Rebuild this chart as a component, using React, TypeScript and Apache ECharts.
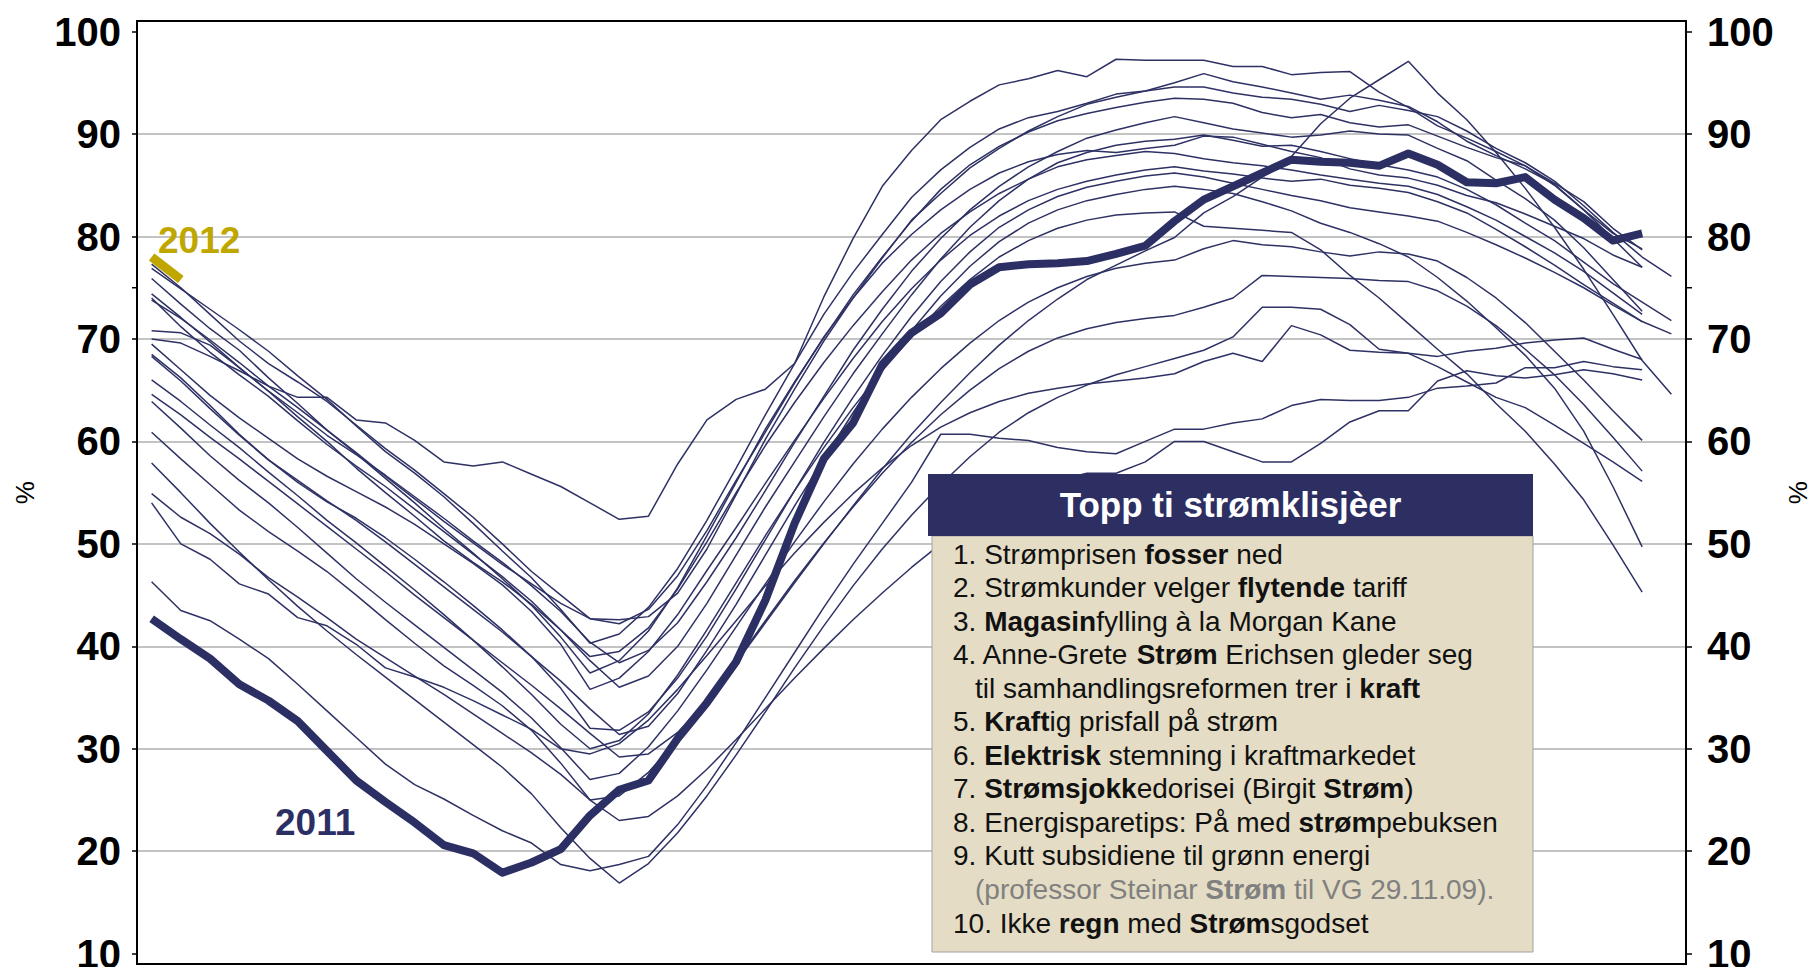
import React, { useEffect, useRef } from 'react';
import * as echarts from 'echarts';

const weeks = ['1','2','3','4','5','6','7','8','9','10','11','12','13','14','15','16','17','18','19','20','21','22','23','24','25','26','27','28','29','30','31','32','33','34','35','36','37','38','39','40','41','42','43','44','45','46','47','48','49','50','51','52','53'];
const yTicks = [10, 20, 30, 40, 50, 60, 70, 80, 90, 100];
const extraTick = 75;

const y2012 = [78.0, 75.8];
const y2011 = [42.7, 40.7, 38.8, 36.3, 34.7, 32.7, 29.8, 26.9, 24.8, 22.8, 20.6, 19.8, 17.9, 18.9, 20.2, 23.5, 26.0, 26.9, 31.0, 34.5, 38.5, 44.5, 52.0, 58.3, 61.8, 67.5, 70.6, 72.5, 75.3, 77.0, 77.3, 77.4, 77.6, 78.3, 79.1, 81.5, 83.6, 84.9, 86.2, 87.5, 87.3, 87.2, 86.9, 88.1, 87.0, 85.3, 85.2, 85.8, 83.6, 81.8, 79.6, 80.3];

const h01 = [70.0, 69.6, 68.3, 66.9, 65.4, 64.3, 64.3, 62.1, 61.8, 60.1, 58.0, 57.6, 58.0, 56.8, 55.6, 54.0, 52.4, 52.7, 57.8, 62.1, 64.1, 65.1, 67.6, 74.1, 79.8, 84.9, 88.4, 91.4, 93.2, 94.8, 95.4, 96.2, 95.6, 97.3, 97.2, 97.2, 97.2, 96.6, 96.6, 95.8, 96.0, 96.1, 94.1, 92.6, 90.8, 89.6, 88.3, 86.9, 85.0, 82.6, 80.3, 78.8];
const h02 = [77.3, 75.0, 72.4, 69.8, 67.6, 65.8, 63.9, 61.6, 59.3, 57.2, 54.9, 52.6, 50.0, 47.3, 45.0, 42.7, 42.6, 42.9, 45.2, 49.5, 54.8, 60.2, 65.1, 69.8, 74.0, 77.9, 81.6, 84.2, 86.7, 88.6, 90.3, 91.7, 92.9, 93.6, 94.2, 95.0, 95.9, 95.1, 94.6, 94.0, 93.4, 93.8, 93.3, 92.7, 91.2, 89.3, 87.9, 86.6, 85.1, 82.6, 79.8, 77.0];
const h03 = [76.9, 74.9, 72.9, 70.9, 68.8, 66.4, 64.1, 61.5, 59.0, 56.9, 54.6, 52.0, 49.3, 46.7, 43.6, 40.3, 41.2, 43.8, 47.6, 52.3, 57.4, 62.6, 67.6, 72.4, 76.5, 80.2, 83.8, 86.5, 88.7, 90.5, 91.6, 92.2, 93.0, 93.9, 94.2, 94.6, 94.6, 94.0, 93.6, 93.4, 92.9, 92.2, 92.8, 92.3, 91.7, 90.3, 88.6, 87.2, 85.4, 83.0, 80.4, 78.0, 76.1];
const h04 = [75.9, 73.4, 71.0, 68.9, 66.2, 63.7, 61.1, 58.8, 56.4, 54.0, 51.5, 49.1, 46.6, 44.0, 40.9, 37.4, 38.6, 41.5, 45.7, 50.8, 56.0, 61.2, 65.8, 70.1, 74.3, 78.0, 81.5, 84.6, 87.0, 88.8, 90.2, 91.3, 92.0, 92.6, 93.1, 93.5, 93.4, 93.0, 92.1, 91.6, 91.9, 91.1, 90.7, 90.9, 89.8, 88.7, 87.7, 86.9, 85.2, 83.4, 80.8, 78.7];
const h05 = [74.4, 72.1, 69.7, 67.2, 64.9, 62.8, 60.6, 58.7, 56.7, 54.6, 52.5, 50.3, 48.2, 45.9, 43.4, 40.4, 38.4, 39.6, 42.3, 46.3, 50.6, 55.2, 59.9, 64.4, 68.9, 72.9, 76.6, 79.8, 82.6, 84.9, 86.8, 88.3, 89.6, 90.4, 91.1, 91.7, 91.1, 90.5, 90.1, 89.7, 89.9, 90.3, 90.0, 89.9, 88.6, 87.4, 85.5, 83.7, 81.6, 78.9, 75.8, 72.7];
const h06 = [74.0, 71.2, 68.7, 66.5, 64.4, 62.0, 59.7, 57.6, 55.6, 53.4, 51.2, 49.0, 46.8, 44.4, 41.6, 38.6, 36.0, 37.1, 40.0, 44.2, 48.9, 53.6, 58.0, 62.4, 66.6, 70.5, 74.3, 77.8, 80.9, 83.5, 85.6, 87.2, 88.2, 88.9, 89.3, 89.5, 89.9, 89.4, 88.8, 88.9, 88.3, 87.6, 87.0, 86.5, 85.8, 84.6, 83.1, 81.3, 79.6, 77.5, 75.4, 73.6, 71.8];
const h07 = [73.8, 72.0, 69.9, 67.7, 65.4, 63.3, 61.1, 58.9, 56.6, 54.4, 52.2, 50.1, 48.0, 46.1, 44.2, 42.7, 42.2, 43.6, 46.9, 51.3, 56.2, 60.9, 65.7, 70.2, 74.0, 77.4, 80.2, 82.6, 84.6, 86.2, 87.3, 88.0, 88.4, 88.2, 88.6, 88.9, 89.8, 89.7, 89.0, 88.3, 87.7, 86.6, 86.0, 85.7, 85.0, 84.0, 83.3, 82.2, 81.0, 79.8, 78.2, 77.0];
const h08 = [70.8, 70.6, 69.4, 67.2, 64.9, 62.4, 60.0, 57.4, 55.0, 52.7, 50.3, 48.2, 46.3, 44.1, 41.6, 39.0, 39.5, 41.8, 45.6, 50.2, 55.0, 59.6, 63.8, 67.7, 71.3, 74.6, 77.7, 80.3, 82.4, 84.2, 85.6, 86.8, 87.5, 87.9, 88.3, 88.1, 87.6, 87.2, 86.9, 86.5, 86.0, 85.6, 85.2, 84.9, 84.1, 82.9, 81.6, 80.0, 78.4, 76.6, 74.5, 72.4];
const h09 = [69.5, 67.0, 64.5, 62.3, 60.3, 58.3, 56.6, 55.1, 53.6, 51.9, 50.0, 48.1, 46.0, 43.4, 40.2, 35.8, 36.9, 39.5, 43.1, 47.4, 51.6, 55.9, 60.1, 64.2, 68.1, 71.7, 74.9, 77.7, 80.1, 82.0, 83.5, 84.6, 85.4, 86.0, 86.5, 86.8, 86.4, 86.1, 85.7, 85.4, 85.6, 85.0, 84.7, 84.3, 83.4, 82.3, 80.7, 79.0, 77.2, 75.3, 73.5, 71.7, 70.5];
const h10 = [68.5, 66.2, 63.5, 60.7, 58.2, 56.0, 54.1, 52.5, 50.6, 48.5, 46.3, 44.0, 41.6, 39.0, 35.9, 32.0, 31.8, 33.6, 36.9, 41.0, 45.6, 50.4, 55.2, 59.9, 64.3, 68.4, 72.2, 75.6, 78.5, 80.9, 82.6, 83.9, 84.8, 85.4, 85.9, 86.2, 85.8, 85.2, 84.6, 84.0, 83.5, 82.8, 82.4, 82.0, 81.5, 80.4, 79.2, 77.9, 76.5, 75.0, 73.3, 71.7];
const h11 = [68.3, 65.9, 63.2, 60.6, 58.2, 56.2, 54.2, 52.3, 50.2, 48.0, 45.8, 43.6, 41.4, 39.0, 36.6, 33.9, 31.4, 32.2, 35.4, 39.6, 44.1, 48.9, 53.7, 58.3, 62.8, 67.0, 70.8, 74.2, 77.1, 79.5, 81.3, 82.6, 83.5, 84.1, 84.6, 84.9, 84.6, 84.2, 83.4, 82.5, 81.3, 80.4, 79.3, 78.0, 76.0, 73.7, 71.1, 68.4, 65.2, 61.0, 55.6, 49.7];
const h12 = [66.0, 63.9, 61.6, 59.4, 57.0, 54.7, 52.3, 50.1, 47.8, 45.5, 43.1, 40.6, 38.0, 35.3, 32.4, 30.0, 30.8, 33.4, 37.2, 41.6, 46.2, 50.8, 55.2, 59.4, 63.3, 66.9, 70.2, 73.2, 75.8, 78.0, 79.6, 80.8, 81.6, 82.1, 82.3, 82.4, 81.0, 80.8, 80.6, 80.4, 78.7, 76.2, 74.0, 71.5, 69.0, 66.6, 63.7, 61.0, 57.8, 54.3, 49.9, 45.3];
const h13 = [64.6, 62.6, 60.4, 58.3, 56.1, 53.9, 51.7, 49.5, 47.3, 45.0, 42.8, 40.6, 38.4, 36.2, 33.9, 31.5, 29.2, 29.5, 31.6, 34.7, 38.4, 42.3, 46.2, 50.0, 53.7, 57.3, 60.7, 63.8, 66.7, 69.4, 71.8, 73.9, 75.8, 77.2, 78.6, 79.9, 82.3, 83.9, 85.8, 87.8, 91.0, 93.5, 95.3, 97.1, 94.0, 91.4, 88.2, 84.7, 80.9, 76.8, 72.4, 67.9, 64.6];
const h14 = [63.9, 61.3, 58.6, 56.2, 54.0, 51.6, 49.1, 46.6, 44.3, 42.1, 39.9, 37.7, 35.5, 33.0, 30.1, 27.0, 27.6, 30.2, 33.7, 37.7, 41.9, 46.1, 50.2, 54.1, 57.8, 61.2, 64.3, 67.1, 69.6, 71.8, 73.6, 75.0, 76.1, 76.9, 77.4, 77.7, 78.8, 79.6, 79.2, 79.0, 78.5, 78.1, 78.5, 78.3, 77.6, 76.0, 74.0, 71.6, 68.8, 66.0, 63.0, 60.1];
const h15 = [60.9, 58.3, 55.8, 53.3, 51.2, 49.3, 47.3, 45.0, 42.6, 40.3, 38.1, 36.2, 34.2, 31.8, 28.6, 25.0, 25.4, 27.7, 30.9, 34.6, 38.5, 42.5, 46.4, 50.1, 53.6, 56.9, 59.9, 62.6, 65.0, 67.1, 68.8, 70.1, 71.0, 71.6, 72.0, 72.3, 73.1, 74.0, 76.2, 76.1, 76.0, 75.9, 75.7, 75.6, 74.7, 73.2, 71.3, 69.0, 66.5, 63.6, 60.4, 57.1];
const h16 = [57.9, 55.0, 52.0, 49.2, 46.5, 43.9, 41.5, 39.2, 37.0, 34.8, 32.6, 30.4, 28.2, 25.6, 22.3, 19.3, 16.9, 18.8, 21.8, 25.4, 29.4, 33.6, 37.9, 42.0, 45.9, 49.5, 52.8, 55.8, 58.5, 60.9, 62.8, 64.3, 65.5, 66.5, 67.3, 68.1, 68.9, 70.2, 73.1, 73.1, 72.9, 71.4, 69.0, 68.6, 67.3, 65.8, 64.3, 63.3, 61.6, 59.8, 58.0, 56.1];
const h17 = [54.9, 52.6, 51.0, 49.0, 46.7, 44.8, 42.8, 40.7, 38.9, 37.1, 35.3, 33.4, 31.5, 29.6, 27.5, 25.0, 23.0, 23.4, 25.4, 28.0, 30.9, 33.9, 36.9, 39.8, 42.6, 45.2, 47.7, 50.0, 52.0, 53.7, 55.1, 56.2, 56.9, 56.9, 58.0, 60.0, 60.0, 59.0, 58.0, 58.0, 59.8, 61.9, 63.0, 63.0, 65.9, 66.9, 66.4, 66.2, 66.5, 67.0, 66.6, 66.0];
const h18 = [54.0, 50.0, 48.5, 46.1, 45.1, 42.8, 42.0, 40.2, 37.9, 37.0, 36.0, 34.7, 33.3, 31.9, 30.0, 29.5, 30.5, 32.8, 35.8, 39.1, 42.5, 45.9, 49.1, 52.1, 54.9, 57.4, 59.6, 61.4, 62.8, 63.9, 64.7, 65.2, 65.6, 65.9, 66.2, 66.6, 67.8, 68.6, 67.8, 71.3, 70.4, 68.9, 68.7, 68.6, 68.3, 68.8, 69.1, 69.6, 69.9, 70.1, 69.0, 68.0];
const h19 = [46.3, 43.5, 42.5, 40.7, 38.8, 36.3, 33.7, 31.1, 28.5, 26.5, 25.1, 23.5, 22.0, 20.8, 18.7, 18.1, 18.7, 19.5, 22.6, 26.4, 30.6, 35.0, 39.4, 43.8, 48.0, 52.0, 56.0, 60.7, 60.7, 60.3, 60.1, 59.4, 59.0, 58.8, 60.0, 61.2, 61.2, 61.8, 62.2, 63.5, 64.1, 64.0, 64.0, 64.3, 65.2, 65.4, 65.7, 67.2, 67.2, 67.8, 67.3, 67.0];

const historical = [h01, h02, h03, h04, h05, h06, h07, h08, h09, h10, h11, h12, h13, h14, h15, h16, h17, h18, h19];

const boxTitle = 'Topp ti strømklisjèer';
const boxLines = [
  '1. Strømprisen {b|fosser} ned',
  '2. Strømkunder velger {b|flytende} tariff',
  '3. {b|Magasin}fylling à la Morgan Kane',
  '4. Anne-Grete {b|Strøm} Erichsen gleder seg',
  'til samhandlingsreformen trer i {b|kraft}',
  '5. {b|Kraft}ig prisfall på strøm',
  '6. {b|Elektrisk} stemning i kraftmarkedet',
  '7. {b|Strømsjokk}edorisei (Birgit {b|Strøm})',
  '8. Energisparetips: På med {b|strøm}pebuksen',
  '9. Kutt subsidiene til grønn energi',
  '(professor Steinar {gb|Strøm} til VG 29.11.09).',
  '10. Ikke {b|regn} med {b|Strøm}sgodset',
];
const indentedLines = [4, 10];
const mutedLines = [10];

const FONT = 'Arial, "Liberation Sans", Helvetica, sans-serif';
const NAVY = '#2e3164';
const GOLD = '#bfa700';

export default function App() {
  const ref = useRef<HTMLDivElement>(null);

  useEffect(() => {
    document.body.style.margin = '0';
    if (!ref.current) return;
    const chart = echarts.init(ref.current, undefined, { renderer: 'svg' });

    const gridLeft = 137;
    const gridTop = 31.6;
    const gridWidth = 1549;
    const gridHeight = 922.1;
    const gridRight = gridLeft + gridWidth;

    const series: any[] = historical.map((d, i) => ({
      type: 'line',
      name: 'år ' + (i + 1),
      data: d,
      symbol: 'none',
      silent: true,
      z: 2,
      lineStyle: { color: NAVY, width: 1.5 },
    }));
    series.push({
      type: 'line',
      name: '2011',
      data: y2011,
      symbol: 'none',
      silent: true,
      z: 3,
      lineStyle: { color: '#2c2f63', width: 8, join: 'round' },
    });
    series.push({
      type: 'line',
      name: '2012',
      data: y2012,
      symbol: 'none',
      silent: true,
      z: 4,
      lineStyle: { color: GOLD, width: 9, cap: 'butt' },
    });

    const lineH = 33.55;
    const firstBase = 563;
    const textEls: any[] = boxLines.map((t, i) => {
      const muted = mutedLines.includes(i);
      const col = muted ? '#808080' : '#111111';
      return {
        id: 'boxline' + i,
        type: 'text',
        z: 102,
        x: indentedLines.includes(i) ? 975 : 953,
        y: firstBase + i * lineH - 9,
        style: {
          text: t,
          fontSize: 28,
          fontFamily: FONT,
          fill: col,
          verticalAlign: 'middle',
          rich: {
            b: { fontSize: 28, fontFamily: FONT, fontWeight: 'bold', fill: '#111111' },
            gb: { fontSize: 28, fontFamily: FONT, fontWeight: 'bold', fill: '#808080' },
          },
        },
      };
    });

    const yAxisCommon = {
      type: 'value',
      min: yTicks[0],
      max: yTicks[yTicks.length - 1],
      interval: 10,
      axisLine: { show: true, lineStyle: { color: '#000', width: 1.5 } },
      axisTick: { show: true, inside: false, length: 5, lineStyle: { color: '#000', width: 1.5 } },
      name: '%',
      nameLocation: 'middle',
      nameRotate: 90,
      nameTextStyle: { fontSize: 26, color: '#000', fontFamily: FONT },
    };

    chart.setOption({
      animation: false,
      backgroundColor: '#ffffff',
      grid: {
        left: gridLeft,
        top: gridTop,
        width: gridWidth,
        height: gridHeight,
        containLabel: false,
        outerBoundsMode: 'none',
      },
      xAxis: {
        type: 'category',
        data: weeks,
        boundaryGap: true,
        axisLine: { show: false },
        axisTick: { show: false },
        axisLabel: { show: false },
        splitLine: { show: false },
      },
      yAxis: [
        {
          ...yAxisCommon,
          position: 'left',
          nameGap: 99,
          axisLabel: { fontSize: 40, fontWeight: 'bold', color: '#000', fontFamily: FONT, margin: 16 },
          splitLine: { show: true, showMinLine: false, showMaxLine: false, lineStyle: { color: '#c3c3c3', width: 2 } },
        },
        {
          ...yAxisCommon,
          position: 'right',
          nameGap: 91,
          axisTick: { show: true, inside: false, length: 6, lineStyle: { color: '#000', width: 1.5 } },
          axisLabel: { fontSize: 40, fontWeight: 'bold', color: '#000', fontFamily: FONT, margin: 21 },
          splitLine: { show: false },
        },
      ],
      series,
      graphic: [
        {
          id: 'frame',
          type: 'rect',
          z: 50,
          silent: true,
          shape: { x: 137, y: 21, width: 1549, height: 943 },
          style: { fill: 'none', stroke: '#000', lineWidth: 2 },
        },
        {
          id: 'lbl2012',
          type: 'text',
          z: 60,
          x: 158,
          y: 240,
          style: { text: '2012', fontSize: 37, fontWeight: 'bold', fontFamily: FONT, fill: GOLD, verticalAlign: 'middle' },
        },
        {
          id: 'lbl2011',
          type: 'text',
          z: 60,
          x: 275,
          y: 822,
          style: { text: '2011', fontSize: 37, fontWeight: 'bold', fontFamily: FONT, fill: '#2c2f63', verticalAlign: 'middle' },
        },
        {
          id: 'boxBody',
          type: 'rect',
          z: 100,
          shape: { x: 932, y: 536, width: 601, height: 416 },
          style: { fill: '#e4dcc4', stroke: '#a3a3a3', lineWidth: 1 },
        },
        {
          id: 'boxHead',
          type: 'rect',
          z: 101,
          shape: { x: 928, y: 474, width: 605, height: 62 },
          style: { fill: '#2d2f62' },
        },
        {
          id: 'boxTitle',
          type: 'text',
          z: 102,
          x: 1230.5,
          y: 504,
          style: { text: boxTitle, fontSize: 35, fontWeight: 'bold', fontFamily: FONT, fill: '#ffffff', align: 'center', verticalAlign: 'middle' },
        },
        ...textEls,
      ],
    });

    const tickY = chart.convertToPixel({ yAxisIndex: 0 }, extraTick) as number;
    chart.setOption({
      graphic: [
        {
          id: 'tick75L',
          type: 'line',
          z: 55,
          silent: true,
          shape: { x1: gridLeft - 5, y1: tickY, x2: gridLeft, y2: tickY },
          style: { stroke: '#000', lineWidth: 1.5 },
        },
        {
          id: 'tick75R',
          type: 'line',
          z: 55,
          silent: true,
          shape: { x1: gridRight, y1: tickY, x2: gridRight + 6, y2: tickY },
          style: { stroke: '#000', lineWidth: 1.5 },
        },
      ],
    });

    return () => chart.dispose();
  }, []);

  return <div ref={ref} style={{ width: '1810px', height: '967px' }} />;
}
